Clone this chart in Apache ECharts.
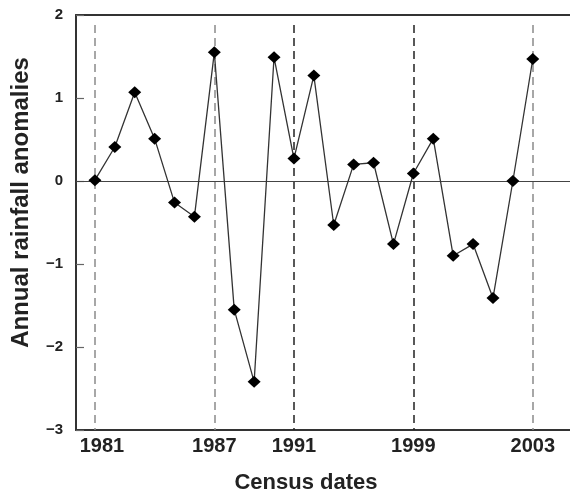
<!DOCTYPE html>
<html>
<head>
<meta charset="utf-8">
<script src="https://cdn.jsdelivr.net/npm/echarts@6/dist/echarts.min.js"></script>
<style>
  html, body { margin: 0; padding: 0; background: #fff; }
  #chart { width: 570px; height: 493px; }
</style>
</head>
<body>
<div id="chart"></div>
<script>
// yearly anomalies, one point per year step
var anomalies = [0.01, 0.41, 1.07, 0.51, -0.26, -0.43, 1.55, -1.55, -2.42, 1.49, 0.27, 1.27,
  -0.53, 0.20, 0.22, -0.76, 0.09, 0.51, -0.90, -0.76, -1.41, 0.0, 1.47];
// census dates: position in the series and label shown
var censusIdx = [0, 6, 10, 16, 22];
var censusLabels = ['1981', '1987', '1991', '1999', '2003'];
var censusColors = ['#8a8a8a', '#8a8a8a', '#222', '#222', '#8a8a8a'];
var yTicks = [-3, -2, -1, 0, 1, 2];

var myChart = echarts.init(document.getElementById('chart'));

var seriesData = [];
for (var i = 0; i < anomalies.length; i++) {
  seriesData.push([i, anomalies[i]]);
}

var censusLines = [];
for (var k = 0; k < censusIdx.length; k++) {
  censusLines.push([
    { coord: [censusIdx[k], 1.88], lineStyle: { color: censusColors[k], type: [8, 5], width: 1.5 } },
    { coord: [censusIdx[k], yTicks[0]] }
  ]);
}
censusLines.push({ yAxis: 0, lineStyle: { color: '#444', type: 'solid', width: 1.2 } });

var font = 'Liberation Sans, Arial, sans-serif';
var tickText = { fontFamily: font, fontWeight: 'bold', fontSize: 20, color: '#222' };

var option = {
  animation: false,
  backgroundColor: '#fff',
  grid: { left: 76, top: 15, right: 0, bottom: 63, outerBoundsMode: 'none' },
  xAxis: [{
    type: 'value',
    min: -0.95,
    max: 23.87,
    name: 'Census dates',
    nameLocation: 'middle',
    nameGap: 42,
    nameTextStyle: { fontFamily: font, fontWeight: 'bold', fontSize: 22, color: '#222', padding: [0, 34, 0, 0] },
    axisLine: { onZero: false, lineStyle: { color: '#333', width: 2 } },
    axisTick: { show: false },
    splitLine: { show: false },
    axisLabel: {
      customValues: censusIdx,
      margin: 6,
      fontFamily: font, fontWeight: 'bold', fontSize: 20, color: '#222',
      formatter: function (v) {
        var j = censusIdx.indexOf(Math.round(v));
        if (j < 0) return '';
        // first label sits a little right of its line, clear of the y labels
        return j === 0 ? '{first|' + censusLabels[j] + '}' : censusLabels[j];
      },
      rich: {
        first: Object.assign({ padding: [0, 0, 0, 14] }, tickText)
      }
    }
  }, {
    type: 'value',
    position: 'top',
    min: -0.95,
    max: 23.87,
    axisLine: { show: true, onZero: false, lineStyle: { color: '#333', width: 2 } },
    axisTick: { show: false },
    axisLabel: { show: false },
    splitLine: { show: false }
  }],
  yAxis: {
    type: 'value',
    min: yTicks[0],
    max: yTicks[yTicks.length - 1],
    interval: 1,
    name: 'Annual rainfall anomalies',
    nameLocation: 'middle',
    nameGap: 43,
    nameTextStyle: { fontFamily: font, fontWeight: 'bold', fontSize: 24, color: '#222', padding: [0, 0, 0, 40] },
    axisLine: { show: true, onZero: false, lineStyle: { color: '#333', width: 2 } },
    axisTick: { show: true, inside: true, length: 8, lineStyle: { color: '#666', width: 1.2 } },
    splitLine: { show: false },
    axisLabel: {
      margin: 13,
      fontFamily: font, fontWeight: 'bold', fontSize: 15, color: '#222',
      formatter: function (v) { return v < 0 ? '\u2212' + Math.abs(v) : String(v); }
    }
  },
  series: [{
    type: 'line',
    data: seriesData,
    symbol: 'path://M0,-1L1,0L0,1L-1,0Z',
    symbolSize: [13, 12],
    lineStyle: { color: '#333', width: 1.3 },
    itemStyle: { color: '#000' },
    z: 5,
    markLine: {
      silent: true,
      symbol: 'none',
      label: { show: false },
      z: 1,
      data: censusLines
    }
  }]
};

myChart.setOption(option);
</script>
</body>
</html>
